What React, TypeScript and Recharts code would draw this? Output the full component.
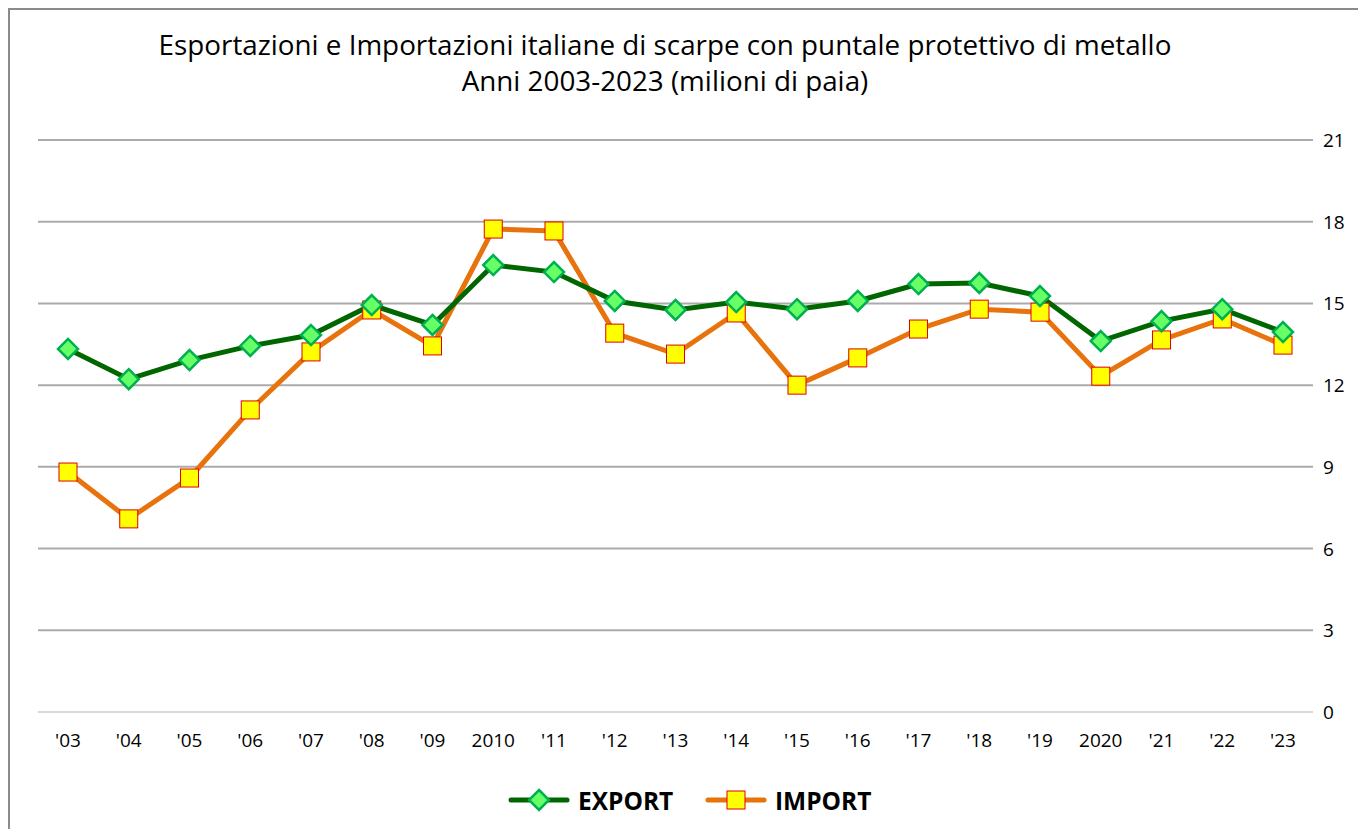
import { CartesianGrid, Line, LineChart, ReferenceLine, XAxis, YAxis } from "recharts"

const years = ["'03", "'04", "'05", "'06", "'07", "'08", "'09", "2010", "'11", "'12", "'13", "'14", "'15", "'16", "'17", "'18", "'19", "2020", "'21", "'22", "'23"]
const exportValues = [13.33, 12.22, 12.92, 13.44, 13.84, 14.94, 14.21, 16.41, 16.15, 15.09, 14.76, 15.05, 14.79, 15.09, 15.71, 15.75, 15.27, 13.62, 14.35, 14.79, 13.95]
const importValues = [8.81, 7.09, 8.59, 11.09, 13.22, 14.76, 13.44, 17.73, 17.66, 13.91, 13.14, 14.65, 12.0, 13.0, 14.06, 14.79, 14.68, 12.33, 13.66, 14.43, 13.47]
const yTicks = [0, 3, 6, 9, 12, 15, 18, 21]
const titleLines = [
  "Esportazioni e Importazioni italiane di scarpe con puntale protettivo di metallo",
  "Anni 2003-2023 (milioni di paia)",
]

const data = years.map((year, i) => ({
  year,
  export: exportValues[i],
  import: importValues[i],
}))

const FONT = "'Open Sans', sans-serif"
const EXPORT_LINE = "#006600"
const IMPORT_LINE = "#e8720c"

function Diamond({ cx, cy }: any) {
  if (cx == null || cy == null) return null
  const r = 10
  return (
    <path
      d={`M${cx},${cy - r} L${cx + r},${cy} L${cx},${cy + r} L${cx - r},${cy} Z`}
      fill="#66ff66"
      stroke="#00b050"
      strokeWidth={2.5}
    />
  )
}

function Square({ cx, cy }: any) {
  if (cx == null || cy == null) return null
  const s = 18
  return (
    <rect
      x={cx - s / 2}
      y={cy - s / 2}
      width={s}
      height={s}
      fill="#ffff00"
      stroke="#e00000"
      strokeWidth={1}
    />
  )
}

function YTick({ x, y, payload }: any) {
  return (
    <text x={x} y={y} dy={7} textAnchor="start" fontSize={19} fill="#000" fontFamily={FONT}>
      {payload.value}
    </text>
  )
}

function LegendItem({ label, color, marker, left }: { label: string; color: string; marker: "diamond" | "square"; left: number }) {
  return (
    <div style={{ position: "absolute", left, top: 775, height: 30, display: "flex", alignItems: "center", gap: 8 }}>
      <svg width={62} height={24}>
        <line x1={3} y1={12} x2={59} y2={12} stroke={color} strokeWidth={5} strokeLinecap="round" />
        {marker === "diamond" ? <Diamond cx={31} cy={12} /> : <Square cx={31} cy={12} />}
      </svg>
      <span style={{ fontWeight: 700, fontSize: 24.5, color: "#000" }}>{label}</span>
    </div>
  )
}

export default function App() {
  return (
    <div
      style={{
        position: "relative",
        width: 1358,
        height: 821,
        borderTop: "2px solid #8a8a8a",
        borderLeft: "2px solid #8a8a8a",
        boxSizing: "border-box",
        fontFamily: FONT,
        background: "#fff",
        overflow: "hidden",
      }}
    >
      <div
        style={{
          position: "absolute",
          left: 0,
          width: 1310,
          top: 16,
          textAlign: "center",
          fontSize: 27.8,
          lineHeight: "36px",
          color: "#000",
        }}
      >
        {titleLines.map(t => (
          <div key={t}>{t}</div>
        ))}
      </div>

      <div style={{ position: "absolute", left: -2, top: -2 }}>
        <LineChart
          width={1358}
          height={821}
          data={data}
          margin={{ top: 132, right: 0, bottom: 77, left: 30 }}
        >
          <CartesianGrid vertical={false} stroke="#ababab" strokeWidth={2} />
          <ReferenceLine y={0} stroke="#d9d9d9" strokeWidth={2} />
          <XAxis
            dataKey="year"
            padding={{ left: 30, right: 30 }}
            axisLine={false}
            tickLine={false}
            tickSize={0}
            tickMargin={22}
            height={40}
            interval={0}
            tick={{ fontSize: 19, fill: "#000", fontFamily: FONT }}
          />
          <YAxis
            orientation="right"
            domain={[0, 21]}
            ticks={yTicks}
            axisLine={false}
            tickLine={false}
            tickSize={0}
            tickMargin={10}
            width={53}
            tick={<YTick />}
          />
          <Line
            dataKey="import"
            stroke={IMPORT_LINE}
            strokeWidth={5}
            dot={<Square />}
            activeDot={false}
            isAnimationActive={false}
          />
          <Line
            dataKey="export"
            stroke={EXPORT_LINE}
            strokeWidth={5}
            dot={<Diamond />}
            activeDot={false}
            isAnimationActive={false}
          />
        </LineChart>
      </div>

      <LegendItem label="EXPORT" color={EXPORT_LINE} marker="diamond" left={498} />
      <LegendItem label="IMPORT" color={IMPORT_LINE} marker="square" left={695} />
    </div>
  )
}
